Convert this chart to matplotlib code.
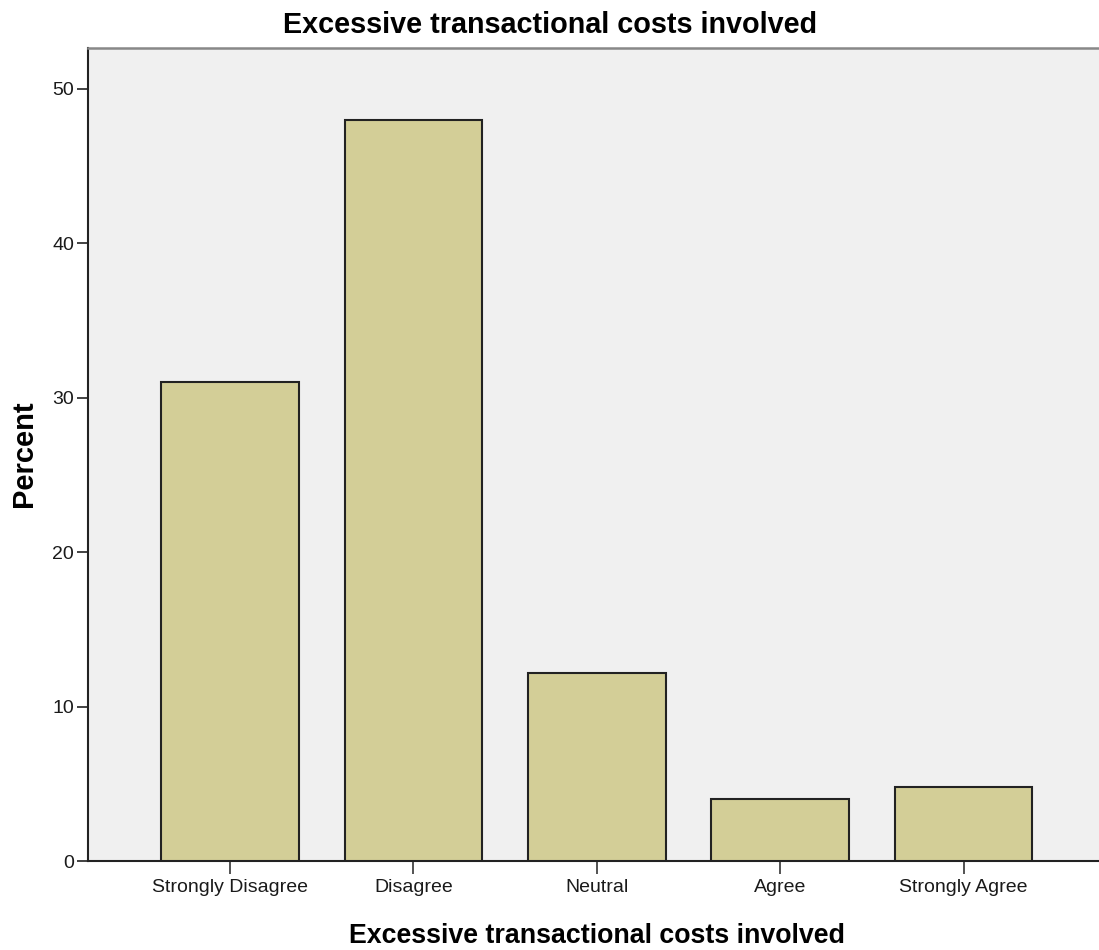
import matplotlib
matplotlib.use("Agg")
import matplotlib.pyplot as plt

categories = ["Strongly Disagree", "Disagree", "Neutral", "Agree", "Strongly Agree"]
percent = [31.0, 48.0, 12.2, 4.0, 4.8]
y_ticks = [0, 10, 20, 30, 40, 50]
title = "Excessive transactional costs involved"

plt.rcParams['font.family'] = ['Liberation Sans', 'DejaVu Sans']

W, H = 1099, 950
fig = plt.figure(figsize=(W / 100, H / 100), dpi=100)
fig.patch.set_facecolor("white")

# axes box in pixels: left 88, right ~1105 (runs off the edge), top 48, bottom 861
ax = fig.add_axes([88 / W, (H - 861) / H, (1105.5 - 88) / W, (861 - 48) / H])
ax.set_facecolor("#F0F0F0")

x = list(range(len(categories)))
ax.bar(x, percent, width=0.75, color="#D3CE97", edgecolor="#222222", linewidth=1.5, zorder=3)

ax.set_xlim(-0.774, len(categories) - 1 + 0.774)
ax.set_ylim(0, 52.65)
ax.set_xticks(x)
ax.set_xticklabels(categories, fontsize=14, color="#1a1a1a")
ax.set_yticks(y_ticks)
ax.set_yticklabels([str(v) for v in y_ticks], fontsize=14, color="#1a1a1a")
ax.tick_params(axis="y", length=8, width=1.3, color="#333333", pad=2)
ax.tick_params(axis="x", length=9, width=1.3, color="#444444", pad=4)

for s in ["left", "bottom"]:
    ax.spines[s].set_color("#222222")
    ax.spines[s].set_linewidth(1.5)
ax.spines["top"].set_color("#888888")
ax.spines["top"].set_linewidth(1.8)
ax.spines["right"].set_visible(False)

fig.text(550 / W, 1 - 33 / H, title, fontsize=20.7, fontweight="bold",
         ha="center", va="baseline")
fig.text(597 / W, 1 - 943 / H, title, fontsize=19.3, fontweight="bold",
         ha="center", va="baseline")
fig.text(32 / W, 1 - 453.5 / H, "Percent", fontsize=21, fontweight="bold",
         rotation=90, rotation_mode="anchor", ha="center", va="baseline")

fig.savefig("out.png", dpi=100)
